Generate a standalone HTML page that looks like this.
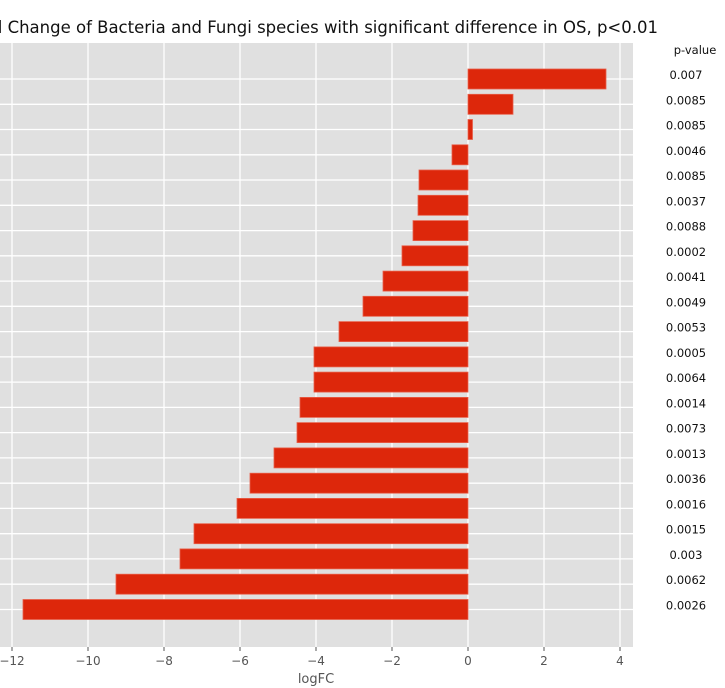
<!DOCTYPE html>
<html><head><meta charset="utf-8"><style>body{margin:0;background:#fff}svg{display:block}</style></head>
<body>
<svg width="725" height="688" xmlns="http://www.w3.org/2000/svg" font-family="DejaVu Sans, Liberation Sans, sans-serif">
<rect x="0" y="43" width="633" height="604" fill="#e0e0e0"/>
<g stroke="#fff" stroke-width="1.3">
<line x1="12" y1="43" x2="12" y2="647"/><line x1="88" y1="43" x2="88" y2="647"/><line x1="164" y1="43" x2="164" y2="647"/><line x1="240" y1="43" x2="240" y2="647"/><line x1="316" y1="43" x2="316" y2="647"/><line x1="392" y1="43" x2="392" y2="647"/><line x1="468" y1="43" x2="468" y2="647"/><line x1="544" y1="43" x2="544" y2="647"/><line x1="620" y1="43" x2="620" y2="647"/>
<line x1="0" y1="79" x2="633" y2="79"/><line x1="0" y1="104.3" x2="633" y2="104.3"/><line x1="0" y1="129.5" x2="633" y2="129.5"/><line x1="0" y1="154.8" x2="633" y2="154.8"/><line x1="0" y1="180" x2="633" y2="180"/><line x1="0" y1="205.3" x2="633" y2="205.3"/><line x1="0" y1="230.6" x2="633" y2="230.6"/><line x1="0" y1="255.8" x2="633" y2="255.8"/><line x1="0" y1="281.1" x2="633" y2="281.1"/><line x1="0" y1="306.3" x2="633" y2="306.3"/><line x1="0" y1="331.6" x2="633" y2="331.6"/><line x1="0" y1="356.9" x2="633" y2="356.9"/><line x1="0" y1="382.1" x2="633" y2="382.1"/><line x1="0" y1="407.4" x2="633" y2="407.4"/><line x1="0" y1="432.6" x2="633" y2="432.6"/><line x1="0" y1="457.9" x2="633" y2="457.9"/><line x1="0" y1="483.2" x2="633" y2="483.2"/><line x1="0" y1="508.4" x2="633" y2="508.4"/><line x1="0" y1="533.7" x2="633" y2="533.7"/><line x1="0" y1="558.9" x2="633" y2="558.9"/><line x1="0" y1="584.2" x2="633" y2="584.2"/><line x1="0" y1="609.5" x2="633" y2="609.5"/>
</g>
<g fill="#dd270b" stroke="#e8604a" stroke-width="0.8">
<rect x="468" y="69" width="138" height="20"/>
<rect x="468" y="94.3" width="45" height="20"/>
<rect x="468" y="119.5" width="4.5" height="20"/>
<rect x="452" y="144.8" width="16" height="20"/>
<rect x="419" y="170" width="49" height="20"/>
<rect x="418" y="195.3" width="50" height="20"/>
<rect x="413" y="220.6" width="55" height="20"/>
<rect x="402" y="245.8" width="66" height="20"/>
<rect x="383" y="271.1" width="85" height="20"/>
<rect x="363" y="296.3" width="105" height="20"/>
<rect x="339" y="321.6" width="129" height="20"/>
<rect x="314" y="346.9" width="154" height="20"/>
<rect x="314" y="372.1" width="154" height="20"/>
<rect x="300" y="397.4" width="168" height="20"/>
<rect x="297" y="422.6" width="171" height="20"/>
<rect x="274" y="447.9" width="194" height="20"/>
<rect x="250" y="473.2" width="218" height="20"/>
<rect x="237" y="498.4" width="231" height="20"/>
<rect x="194" y="523.7" width="274" height="20"/>
<rect x="180" y="548.9" width="288" height="20"/>
<rect x="116" y="574.2" width="352" height="20"/>
<rect x="23" y="599.5" width="445" height="20"/>
</g>
<g stroke="#555" stroke-width="1"><line x1="12" y1="647" x2="12" y2="651"/><line x1="88" y1="647" x2="88" y2="651"/><line x1="164" y1="647" x2="164" y2="651"/><line x1="240" y1="647" x2="240" y2="651"/><line x1="316" y1="647" x2="316" y2="651"/><line x1="392" y1="647" x2="392" y2="651"/><line x1="468" y1="647" x2="468" y2="651"/><line x1="544" y1="647" x2="544" y2="651"/><line x1="620" y1="647" x2="620" y2="651"/></g>
<g fill="#555" font-size="12" text-anchor="middle">
<text x="12" y="665">−12</text><text x="88" y="665">−10</text><text x="164" y="665">−8</text><text x="240" y="665">−6</text><text x="316" y="665">−4</text><text x="392" y="665">−2</text><text x="468" y="665">0</text><text x="544" y="665">2</text><text x="620" y="665">4</text>
</g>
<text x="316" y="683" font-size="13" fill="#555" text-anchor="middle">logFC</text>
<text x="658" y="33" font-size="16.5" fill="#111" text-anchor="end">Fold Change of Bacteria and Fungi species with significant difference in OS, p&lt;0.01</text>
<g font-size="11.5" fill="#111" text-anchor="middle">
<text x="695" y="54">p-value</text>
<text x="686" y="79">0.007</text><text x="686" y="104.3">0.0085</text><text x="686" y="129.5">0.0085</text><text x="686" y="154.8">0.0046</text><text x="686" y="180">0.0085</text><text x="686" y="205.3">0.0037</text><text x="686" y="230.6">0.0088</text><text x="686" y="255.8">0.0002</text><text x="686" y="281.1">0.0041</text><text x="686" y="306.3">0.0049</text><text x="686" y="331.6">0.0053</text><text x="686" y="356.9">0.0005</text><text x="686" y="382.1">0.0064</text><text x="686" y="407.4">0.0014</text><text x="686" y="432.6">0.0073</text><text x="686" y="457.9">0.0013</text><text x="686" y="483.2">0.0036</text><text x="686" y="508.4">0.0016</text><text x="686" y="533.7">0.0015</text><text x="686" y="558.9">0.003</text><text x="686" y="584.2">0.0062</text><text x="686" y="609.5">0.0026</text>
</g>
</svg>
</body></html>
